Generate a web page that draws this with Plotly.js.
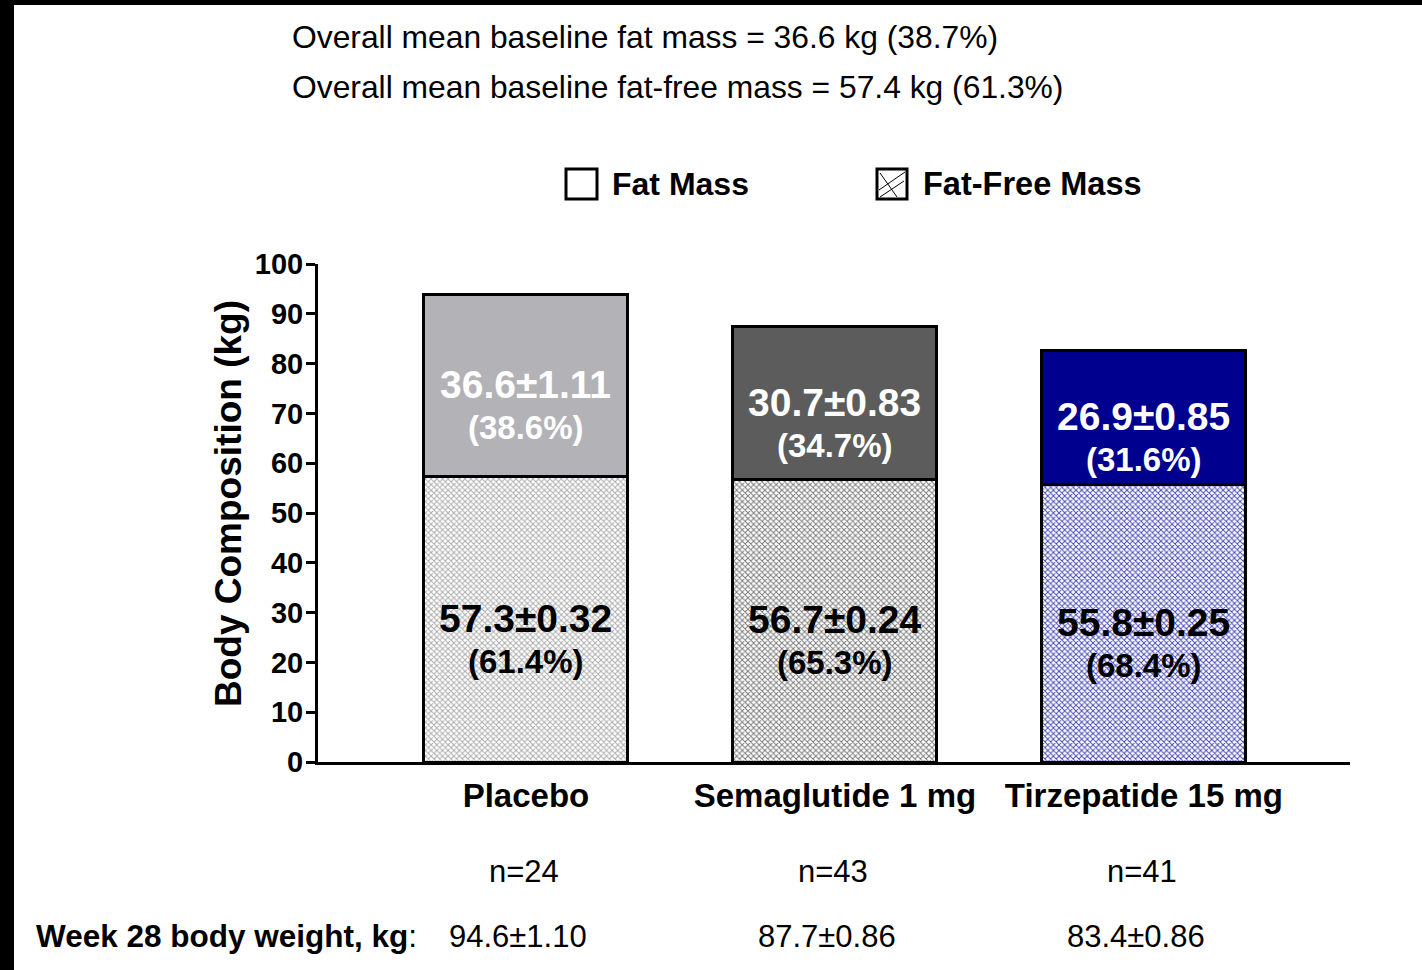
<!DOCTYPE html>
<html>
<head>
<meta charset="utf-8">
<script src="https://cdn.plot.ly/plotly-3.0.1.min.js"></script>
<style>
  html, body { margin: 0; padding: 0; background: #000; width: 1422px; height: 970px; overflow: hidden; }
  #chart { position: absolute; left: 14px; top: 5px; width: 1408px; height: 965px; background: #fff; }
</style>
</head>
<body>
<div id="chart"></div>
<script>
// Treatment arms
const categories = ['Placebo', 'Semaglutide 1 mg', 'Tirzepatide 15 mg'];

// Week 28 body composition (kg, mean ± SE) and share of body weight
const fatFreeMass = [57.3, 56.7, 55.8];
const fatFreeSE   = ['0.32', '0.24', '0.25'];
const fatFreePct  = ['61.4', '65.3', '68.4'];
const fatMass     = [36.6, 30.7, 26.9];
const fatSE       = ['1.11', '0.83', '0.85'];
const fatPct      = ['38.6', '34.7', '31.6'];

// Sample sizes and week 28 body weight
const nPerArm      = [24, 43, 41];
const bodyWeight   = ['94.6', '87.7', '83.4'];
const bodyWeightSE = ['1.10', '0.86', '0.86'];

const headerLines = [
  'Overall mean baseline fat mass = 36.6 kg (38.7%)',
  'Overall mean baseline fat-free mass = 57.4 kg (61.3%)'
];

// Styling
const fatColors     = ['#b3b2b7', '#5c5c5c', '#00008f'];
const fatTextColors = ['#ffffff', '#ffffff', '#ffffff'];
const hatchColors   = ['#aaaaaa', '#787878', '#4646b6'];
const FONT = 'Liberation Sans, Arial, sans-serif';

// Page-pixel helpers for elements placed in paper space
const PLOT_L = 318, PLOT_R = 1350, PLOT_T = 264, PLOT_B = 762;
const xp = px => (px - PLOT_L) / (PLOT_R - PLOT_L);
const yp = py => (PLOT_B - py) / (PLOT_B - PLOT_T);

const traces = [
  {
    type: 'bar',
    name: 'Fat-Free Mass',
    x: categories,
    y: fatFreeMass,
    width: 0.66,
    marker: {
      color: '#ffffff',
      line: { color: '#000000', width: 3 },
      pattern: { shape: 'x', size: 4, solidity: 0.42, fgcolor: hatchColors, bgcolor: '#ffffff', fillmode: 'replace' }
    },
    hoverinfo: 'skip',
    showlegend: false
  },
  {
    type: 'bar',
    name: 'Fat Mass',
    x: categories,
    y: fatMass,
    width: 0.66,
    marker: { color: fatColors, line: { color: '#000000', width: 3 } },
    hoverinfo: 'skip',
    showlegend: false
  }
];

const annotations = [];

// Two-line value label centred on a stacked segment
function segmentLabel(cat, yMid, main, pct, color) {
  annotations.push({
    x: cat, y: yMid, xref: 'x', yref: 'y',
    text: '<b>' + main + '</b>',
    showarrow: false, yanchor: 'middle', yshift: 1,
    font: { family: FONT, size: 39, color: color }
  });
  annotations.push({
    x: cat, y: yMid, xref: 'x', yref: 'y',
    text: '<b>(' + pct + '%)</b>',
    showarrow: false, yanchor: 'middle', yshift: -42,
    font: { family: FONT, size: 33, color: color }
  });
}

categories.forEach((cat, i) => {
  segmentLabel(cat, fatFreeMass[i] / 2,
    fatFreeMass[i].toFixed(1) + '±' + fatFreeSE[i], fatFreePct[i], '#000000');
  segmentLabel(cat, fatFreeMass[i] + fatMass[i] / 2,
    fatMass[i].toFixed(1) + '±' + fatSE[i], fatPct[i], fatTextColors[i]);

  // sample size row
  annotations.push({
    x: cat, y: yp(871), xref: 'x', yref: 'paper',
    text: 'n=' + nPerArm[i],
    showarrow: false, yanchor: 'middle', xshift: -2,
    font: { family: FONT, size: 31, color: '#000000' }
  });
  // body weight row
  annotations.push({
    x: cat, y: yp(936), xref: 'x', yref: 'paper',
    text: bodyWeight[i] + '±' + bodyWeightSE[i],
    showarrow: false, yanchor: 'middle', xshift: -8,
    font: { family: FONT, size: 31, color: '#000000' }
  });
});

// Row heading for body weight
annotations.push({
  x: xp(34), y: yp(936), xref: 'paper', yref: 'paper',
  text: '<b>Week 28 body weight, kg</b>:',
  showarrow: false, xanchor: 'left', yanchor: 'middle',
  font: { family: FONT, size: 31.5, color: '#000000' }
});

// Header lines
headerLines.forEach((line, k) => {
  annotations.push({
    x: xp(290), y: yp(k === 0 ? 37 : 87), xref: 'paper', yref: 'paper',
    text: line, showarrow: false, xanchor: 'left', yanchor: 'middle',
    font: { family: FONT, size: 31.8, color: '#000000' }
  });
});

// Y axis title
annotations.push({
  x: xp(228), y: yp(504), xref: 'paper', yref: 'paper',
  text: '<b>Body Composition (kg)</b>', textangle: -90,
  showarrow: false, xanchor: 'center', yanchor: 'middle',
  font: { family: FONT, size: 37, color: '#000000' }
});

// Legend labels
annotations.push({
  x: xp(610), y: yp(184), xref: 'paper', yref: 'paper',
  text: '<b>Fat Mass</b>', showarrow: false, xanchor: 'left', yanchor: 'middle',
  font: { family: FONT, size: 32, color: '#000000' }
});
annotations.push({
  x: xp(921), y: yp(184), xref: 'paper', yref: 'paper',
  text: '<b>Fat-Free Mass</b>', showarrow: false, xanchor: 'left', yanchor: 'middle',
  font: { family: FONT, size: 32.5, color: '#000000' }
});

// Legend swatches
const shapes = [
  { type: 'rect', xref: 'paper', yref: 'paper', x0: xp(566), x1: xp(597), y0: yp(199), y1: yp(169),
    line: { color: '#000000', width: 3 }, fillcolor: '#ffffff' },
  { type: 'rect', xref: 'paper', yref: 'paper', x0: xp(877), x1: xp(907), y0: yp(199), y1: yp(169),
    line: { color: '#000000', width: 3 }, fillcolor: '#ffffff' },
  { type: 'line', xref: 'paper', yref: 'paper', x0: xp(879), x1: xp(905), y0: yp(190), y1: yp(172),
    line: { color: '#000000', width: 1 } },
  { type: 'line', xref: 'paper', yref: 'paper', x0: xp(880), x1: xp(904), y0: yp(197), y1: yp(181),
    line: { color: '#000000', width: 1 } },
  { type: 'line', xref: 'paper', yref: 'paper', x0: xp(880), x1: xp(897), y0: yp(173), y1: yp(197),
    line: { color: '#000000', width: 1 } }
];

const layout = {
  width: 1408, height: 965,
  margin: { l: PLOT_L - 14, r: 1422 - PLOT_R, t: PLOT_T - 5, b: 970 - PLOT_B, pad: 0 },
  paper_bgcolor: '#ffffff', plot_bgcolor: '#ffffff',
  barmode: 'stack',
  font: { family: FONT, color: '#000000' },
  xaxis: {
    type: 'category',
    range: [-0.673, 2.667],
    showline: true, linecolor: '#000000', linewidth: 3,
    ticks: '', showgrid: false, zeroline: false,
    tickfont: { family: FONT, size: 33, weight: 'bold', color: '#000000' },
    ticklabelstandoff: 2
  },
  yaxis: {
    range: [0, 100], dtick: 10, tick0: 0,
    showline: true, linecolor: '#000000', linewidth: 3,
    ticks: 'outside', ticklen: 9, tickwidth: 3, tickcolor: '#000000',
    showgrid: false, zeroline: false,
    tickfont: { family: FONT, size: 29, weight: 'bold', color: '#000000' },
    ticklabelstandoff: -3
  },
  annotations: annotations,
  shapes: shapes,
  showlegend: false
};

Plotly.newPlot('chart', traces, layout, { displayModeBar: false, staticPlot: true });
</script>
</body>
</html>
